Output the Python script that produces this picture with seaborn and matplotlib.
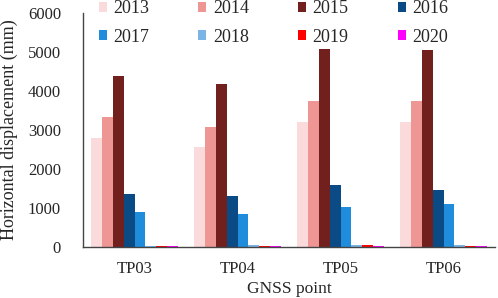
import matplotlib
matplotlib.use("Agg")
import matplotlib.pyplot as plt
import pandas as pd
import seaborn as sns

POINTS = ["TP03", "TP04", "TP05", "TP06"]
YEARS = ["2013", "2014", "2015", "2016", "2017", "2018", "2019", "2020"]
# horizontal displacement (mm), one list per year, order = POINTS
D2013 = [2800, 2570, 3200, 3200]
D2014 = [3330, 3080, 3740, 3740]
D2015 = [4380, 4170, 5090, 5050]
D2016 = [1370, 1300, 1580, 1460]
D2017 = [890, 860, 1020, 1100]
D2018 = [35, 40, 40, 60]
D2019 = [30, 20, 60, 30]
D2020 = [20, 20, 25, 20]
COLORS = ["#fadadb", "#ee9693", "#72201e", "#0a4a85",
          "#1f8ddb", "#7ab5e6", "#ff0000", "#ff00ff"]

series = [D2013, D2014, D2015, D2016, D2017, D2018, D2019, D2020]
rows = []
for yr, vals in zip(YEARS, series):
    for p, v in zip(POINTS, vals):
        rows.append({"point": p, "year": yr, "disp": v})
df = pd.DataFrame(rows)

sns.set_style("white")
plt.rcParams["font.family"] = ["Liberation Serif", "DejaVu Serif"]

fig = plt.figure(figsize=(4.98, 2.98), dpi=100)
ax = fig.add_axes([0.167, 0.171, 0.827, 0.785])
sns.barplot(df, x="point", y="disp", hue="year", order=POINTS, hue_order=YEARS,
            palette=COLORS, width=0.84, saturation=1, linewidth=0, ax=ax)

ax.set_ylim(0, 6000)
ax.set_xlim(-0.5, 3.5)
ax.set_yticks(range(0, 6001, 1000))
ax.set_xticks([-0.5, 0.5, 1.5, 2.5, 3.5], minor=True)
ax.tick_params(axis="x", which="major", length=0, labelsize=12, pad=10)
ax.tick_params(axis="x", which="minor", length=3, direction="in", color="#444")
ax.tick_params(axis="y", length=4.5, direction="in", labelsize=12, pad=16, color="#444")
ax.set_xlabel("GNSS point", fontsize=12.5, labelpad=3)
ax.set_ylabel("Horizontal displacement (mm)", fontsize=13)
ax.yaxis.set_label_coords(-0.158, 0.5)
sns.despine(ax=ax)
for s in ("left", "bottom"):
    ax.spines[s].set_color("#444")
    ax.spines[s].set_linewidth(1)

# legend filled row by row, like the original
handles, labels = ax.get_legend_handles_labels()
order = [0, 4, 1, 5, 2, 6, 3, 7]
ax.legend([handles[i] for i in order], [labels[i] for i in order],
          loc="upper left", bbox_to_anchor=(-0.002, 1.124), ncol=4, frameon=False,
          fontsize=13, handlelength=0.45, handleheight=0.45, handletextpad=0.35,
          columnspacing=2.73, labelspacing=0.62)

fig.savefig("out.png", dpi=100)
